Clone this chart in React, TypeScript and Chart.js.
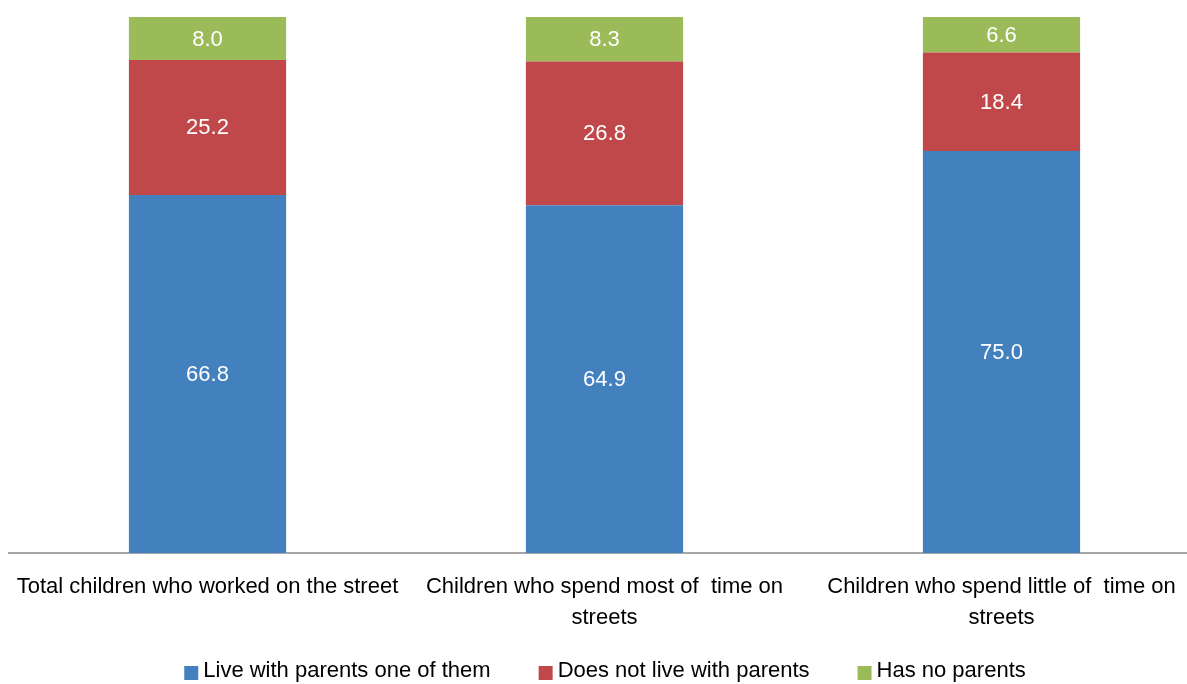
import React, { useEffect, useRef } from "react";
import { Chart, registerables } from "chart.js";

Chart.register(...registerables);

const categories: (string | string[])[] = [
  "Total children who worked on the street",
  ["Children who spend most of  time on", "streets"],
  ["Children who spend little of  time on", "streets"],
];
const liveWithParents = [66.8, 64.9, 75.0];
const notLiveWithParents = [25.2, 26.8, 18.4];
const hasNoParents = [8.0, 8.3, 6.6];
const seriesNames = ["Live with parents one of them", "Does not live with parents", "Has no parents"];
const seriesColors = ["#4380BE", "#C0474A", "#9BBB59"];

const FONT = "'Liberation Sans', Arial, sans-serif";
const AXIS_Y = 553;
const LEGEND_SPACE = 36;

const labelPlugin = {
  id: "segLabels",
  afterDatasetsDraw(chart: any) {
    const ctx = chart.ctx;
    ctx.save();
    ctx.fillStyle = "#ffffff";
    ctx.font = `22px ${FONT}`;
    ctx.textAlign = "center";
    ctx.textBaseline = "middle";
    chart.data.datasets.forEach((ds: any, i: number) => {
      const meta = chart.getDatasetMeta(i);
      meta.data.forEach((bar: any, j: number) => {
        const v = ds.data[j];
        const y = (bar.y + bar.base) / 2 + 1;
        ctx.fillText(v.toFixed(1), bar.x, y);
      });
    });
    ctx.restore();
  },
};

const legendPlugin = {
  id: "bottomLegend",
  afterDraw(chart: any) {
    const ctx = chart.ctx;
    ctx.save();
    ctx.font = `22px ${FONT}`;
    ctx.textBaseline = "middle";
    ctx.textAlign = "left";
    const box = 14;
    const gapBoxText = 5;
    const gapItems = 48;
    const items = chart.data.datasets.map((ds: any) => ({
      text: ds.label,
      color: ds.backgroundColor,
      w: box + gapBoxText + ctx.measureText(ds.label).width,
    }));
    const total = items.reduce((s: number, it: any) => s + it.w, 0) + gapItems * (items.length - 1);
    const cx = 605;
    let x = cx - total / 2;
    const yc = chart.height - LEGEND_SPACE + 23;
    items.forEach((it: any) => {
      ctx.fillStyle = it.color;
      ctx.fillRect(x, yc - box / 2 + 2, box, box);
      ctx.fillStyle = "#000";
      ctx.fillText(it.text, x + box + gapBoxText, yc);
      x += it.w + gapItems;
    });
    ctx.restore();
  },
};

export default function App() {
  const ref = useRef<HTMLCanvasElement>(null);
  useEffect(() => {
    document.body.style.margin = "0";
    document.body.style.overflow = "hidden";
    const chart = new Chart(ref.current!, {
      type: "bar",
      data: {
        labels: categories,
        datasets: [
          { label: seriesNames[0], data: liveWithParents, backgroundColor: seriesColors[0] },
          { label: seriesNames[1], data: notLiveWithParents, backgroundColor: seriesColors[1] },
          { label: seriesNames[2], data: hasNoParents, backgroundColor: seriesColors[2] },
        ],
      },
      options: {
        animation: false,
        responsive: false,
        maintainAspectRatio: false,
        layout: { padding: { top: 17, left: 9, right: 0, bottom: LEGEND_SPACE } },
        datasets: { bar: { categoryPercentage: 1, barPercentage: 0.396 } },
        scales: {
          x: {
            stacked: true,
            grid: { display: false, drawTicks: false },
            border: { display: true, color: "#A6A6A6", width: 2 },
            ticks: {
              color: "#000",
              font: { family: FONT, size: 22, lineHeight: 1.4 },
              padding: 19,
              maxRotation: 0,
              autoSkip: false,
            },
            afterFit(scale: any) {
              scale.height = scale.chart.height - LEGEND_SPACE - AXIS_Y;
              scale.paddingLeft = 0;
              scale.paddingRight = 0;
            },
          },
          y: { stacked: true, min: 0, max: 100, display: false },
        },
        plugins: {
          legend: { display: false },
          tooltip: { enabled: false },
        },
      },
      plugins: [labelPlugin, legendPlugin],
    });
    return () => chart.destroy();
  }, []);
  return (
    <div style={{ width: 1187, height: 684, overflow: "hidden" }}>
      <canvas ref={ref} width={1200} height={684} style={{ display: "block" }} />
    </div>
  );
}
